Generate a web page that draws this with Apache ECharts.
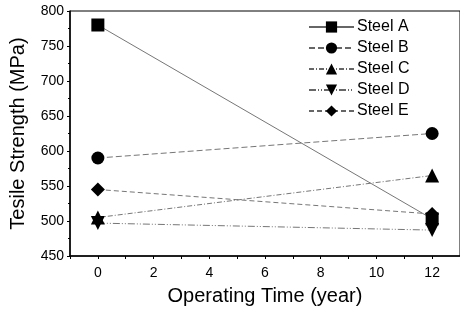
<!DOCTYPE html>
<html>
<head>
<meta charset="utf-8">
<script src="https://cdn.jsdelivr.net/npm/echarts@6/dist/echarts.min.js"></script>
<style>
  html, body { margin: 0; padding: 0; background: #fff; }
  #chart { width: 460px; height: 311px; }
</style>
</head>
<body>
<div id="chart"></div>
<script>
// operating time (year)
var years = [0, 12];
var steelA = [780, 503];
var steelB = [590, 625];
var steelC = [505, 565];
var steelD = [497, 487];
var steelE = [545, 510];

var names = ['Steel A', 'Steel B', 'Steel C', 'Steel D', 'Steel E'];
var values = [steelA, steelB, steelC, steelD, steelE];
var symbols = ['rect', 'circle', 'triangle', 'triangle', 'diamond'];
var rotates = [0, 0, 0, 180, 0];
var sizes = [13, 13, 14, 14, 14];
var dashes = ['solid', [6, 3], [5, 2, 1, 2], [7, 2, 1, 2, 1, 2], [5, 3]];

var xTicks = [-1, 0, 1, 2, 3, 4, 5, 6, 7, 8, 9, 10, 11, 12, 13];
var xLabels = [0, 2, 4, 6, 8, 10, 12];

var font = 'Liberation Sans, Arial, sans-serif';

var series = names.map(function (name, i) {
    return {
        name: name,
        type: 'line',
        data: years.map(function (x, j) { return [x, values[i][j]]; }),
        symbol: symbols[i],
        symbolRotate: rotates[i],
        symbolSize: sizes[i],
        itemStyle: { color: '#000' },
        lineStyle: { color: '#666', width: 0.9, type: dashes[i] }
    };
});

var chart = echarts.init(document.getElementById('chart'), null, { renderer: 'canvas' });
chart.setOption({
    animation: false,
    grid: {
        left: 69, right: -3, top: 11, bottom: 55,
        show: true, borderColor: '#000', borderWidth: 1, backgroundColor: 'transparent'
    },
    legend: {
        orient: 'vertical',
        left: 303,
        top: 14,
        itemWidth: 45,
        itemHeight: 14,
        itemGap: 5,
        textStyle: { fontFamily: font, fontSize: 16, color: '#000', padding: [0, 0, 0, -2] },
        data: names
    },
    xAxis: {
        type: 'value',
        min: -1,
        max: 13,
        name: 'Operating Time (year)',
        nameLocation: 'middle',
        nameGap: 30,
        nameTextStyle: { fontFamily: font, fontSize: 20, color: '#000' },
        axisLine: { onZero: false, lineStyle: { color: '#000', width: 1.5 } },
        axisTick: { show: true, length: 3, lineStyle: { color: '#000' }, customValues: xTicks },
        axisLabel: {
            fontFamily: font, fontSize: 14, color: '#000', margin: 10,
            customValues: xLabels
        },
        splitLine: { show: false }
    },
    yAxis: {
        type: 'value',
        min: 450,
        max: 800,
        interval: 50,
        name: 'Tesile Strength (MPa)',
        nameLocation: 'middle',
        nameGap: 42,
        nameTextStyle: { fontFamily: font, fontSize: 20, color: '#000' },
        axisLine: { show: true, onZero: false, lineStyle: { color: '#000', width: 1.5 } },
        axisTick: { show: true, length: 3, lineStyle: { color: '#000' } },
        minorTick: { show: true, splitNumber: 2, length: 2, lineStyle: { color: '#000' } },
        axisLabel: { fontFamily: font, fontSize: 14, color: '#000', margin: 6 },
        splitLine: { show: false }
    },
    series: series
});
</script>
</body>
</html>
